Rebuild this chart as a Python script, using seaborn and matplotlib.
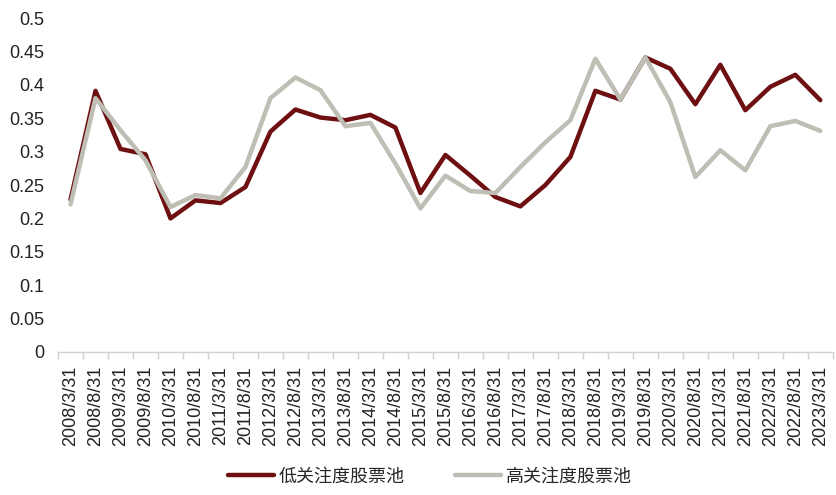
import matplotlib
matplotlib.use('Agg')
import matplotlib.pyplot as plt
import numpy as np
import pandas as pd
import seaborn as sns

dates = []
for year in range(2008, 2024):
    dates.append(f'{year}/3/31')
    if year < 2023:
        dates.append(f'{year}/8/31')

low_attention = [0.228, 0.391, 0.304, 0.296, 0.200, 0.227, 0.223, 0.247, 0.330, 0.363,
                 0.351, 0.347, 0.355, 0.336, 0.238, 0.295, 0.264, 0.232, 0.218, 0.250,
                 0.292, 0.391, 0.378, 0.441, 0.424, 0.371, 0.430, 0.362, 0.397, 0.415,
                 0.377]
high_attention = [0.221, 0.380, 0.332, 0.287, 0.217, 0.235, 0.230, 0.277, 0.380, 0.411,
                  0.392, 0.338, 0.343, 0.282, 0.215, 0.264, 0.241, 0.238, 0.277, 0.314,
                  0.347, 0.439, 0.378, 0.441, 0.374, 0.262, 0.302, 0.272, 0.338, 0.346,
                  0.331]
series_names = ['低关注度股票池', '高关注度股票池']
colors = ['#6E0F12', '#BEBEB4']
y_ticks = [0, 0.05, 0.1, 0.15, 0.2, 0.25, 0.3, 0.35, 0.4, 0.45, 0.5]
y_labels = ['0', '0.05', '0.1', '0.15', '0.2', '0.25', '0.3', '0.35', '0.4', '0.45', '0.5']

df = pd.DataFrame({
    'date': dates * 2,
    'value': low_attention + high_attention,
    'pool': [series_names[0]] * len(dates) + [series_names[1]] * len(dates),
})

sns.set_style('white')
plt.rcParams['font.family'] = ['Liberation Sans', 'Noto Sans CJK SC', 'DejaVu Sans']

fig = plt.figure(figsize=(8.37, 4.95), dpi=100)
ax = fig.add_axes([0.0693, 0.2889, 0.9257, 0.6747])

sns.lineplot(data=df, x='date', y='value', hue='pool', palette=colors,
             hue_order=series_names, sort=False, linewidth=3.2, ax=ax, legend=False)

ax.set_xlim(-0.5, len(dates) - 0.5)
ax.set_ylim(0, 0.5)
ax.set_xticks(range(len(dates)))
ax.set_xticklabels(dates, rotation=90, fontsize=13, color='#222222')
ax.set_xticks(np.arange(-0.5, len(dates), 1), minor=True)
ax.tick_params(axis='x', which='major', length=0, pad=10)
ax.tick_params(axis='x', which='minor', length=5, color='#D0D0D0', width=1, bottom=True)
ax.set_yticks(y_ticks)
ax.set_yticklabels(y_labels, fontsize=13, color='#222222')
ax.tick_params(axis='y', length=0, pad=10)
ax.set_xlabel('')
ax.set_ylabel('')

for side in ['top', 'right', 'left']:
    ax.spines[side].set_visible(False)
ax.spines['bottom'].set_color('#D0D0D0')
ax.spines['bottom'].set_linewidth(1)

handles = [plt.Line2D([], [], color=c, linewidth=3.2) for c in colors]
fig.legend(handles, series_names, loc='center', bbox_to_anchor=(0.514, 0.038),
           ncol=2, frameon=False, handlelength=2.5, handletextpad=0.3,
           columnspacing=2.8, prop={'family': ['Noto Sans CJK SC'], 'size': 13})

fig.savefig('out.png', dpi=100)
